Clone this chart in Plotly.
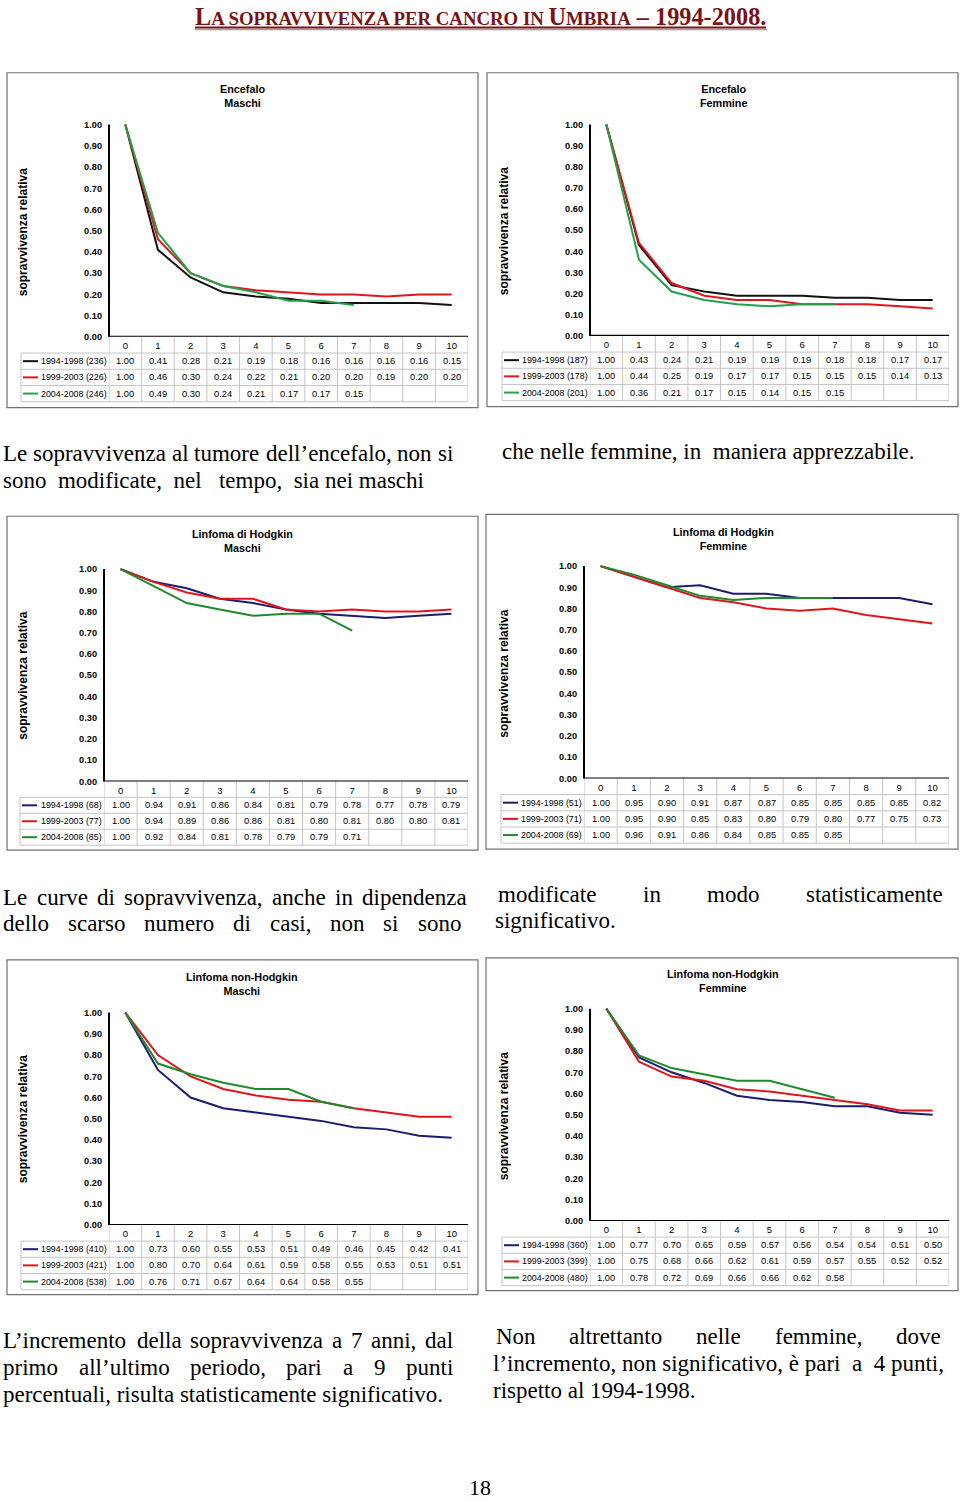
import plotly.graph_objects as go

# ---------------- data ----------------
years = list(range(11))
x_labels = [str(v) for v in years]
y_ticks = [i / 10 for i in range(11)]
y_ticktext = ["%.2f" % v for v in y_ticks]
periods = ["1994-1998", "1999-2003", "2004-2008"]

enc_m_n = [236, 226, 246]
enc_m_p1 = [1.00, 0.41, 0.28, 0.21, 0.19, 0.18, 0.16, 0.16, 0.16, 0.16, 0.15]
enc_m_p2 = [1.00, 0.46, 0.30, 0.24, 0.22, 0.21, 0.20, 0.20, 0.19, 0.20, 0.20]
enc_m_p3 = [1.00, 0.49, 0.30, 0.24, 0.21, 0.17, 0.17, 0.15, None, None, None]

enc_f_n = [187, 178, 201]
enc_f_p1 = [1.00, 0.43, 0.24, 0.21, 0.19, 0.19, 0.19, 0.18, 0.18, 0.17, 0.17]
enc_f_p2 = [1.00, 0.44, 0.25, 0.19, 0.17, 0.17, 0.15, 0.15, 0.15, 0.14, 0.13]
enc_f_p3 = [1.00, 0.36, 0.21, 0.17, 0.15, 0.14, 0.15, 0.15, None, None, None]

hl_m_n = [68, 77, 85]
hl_m_p1 = [1.00, 0.94, 0.91, 0.86, 0.84, 0.81, 0.79, 0.78, 0.77, 0.78, 0.79]
hl_m_p2 = [1.00, 0.94, 0.89, 0.86, 0.86, 0.81, 0.80, 0.81, 0.80, 0.80, 0.81]
hl_m_p3 = [1.00, 0.92, 0.84, 0.81, 0.78, 0.79, 0.79, 0.71, None, None, None]

hl_f_n = [51, 71, 69]
hl_f_p1 = [1.00, 0.95, 0.90, 0.91, 0.87, 0.87, 0.85, 0.85, 0.85, 0.85, 0.82]
hl_f_p2 = [1.00, 0.95, 0.90, 0.85, 0.83, 0.80, 0.79, 0.80, 0.77, 0.75, 0.73]
hl_f_p3 = [1.00, 0.96, 0.91, 0.86, 0.84, 0.85, 0.85, 0.85, None, None, None]

nhl_m_n = [410, 421, 538]
nhl_m_p1 = [1.00, 0.73, 0.60, 0.55, 0.53, 0.51, 0.49, 0.46, 0.45, 0.42, 0.41]
nhl_m_p2 = [1.00, 0.80, 0.70, 0.64, 0.61, 0.59, 0.58, 0.55, 0.53, 0.51, 0.51]
nhl_m_p3 = [1.00, 0.76, 0.71, 0.67, 0.64, 0.64, 0.58, 0.55, None, None, None]

nhl_f_n = [360, 399, 480]
nhl_f_p1 = [1.00, 0.77, 0.70, 0.65, 0.59, 0.57, 0.56, 0.54, 0.54, 0.51, 0.50]
nhl_f_p2 = [1.00, 0.75, 0.68, 0.66, 0.62, 0.61, 0.59, 0.57, 0.55, 0.52, 0.52]
nhl_f_p3 = [1.00, 0.78, 0.72, 0.69, 0.66, 0.66, 0.62, 0.58, None, None, None]

# ---------------- styling / geometry ----------------
W, H = 960, 1501


def fx(px):
    return px / W


def fy(py):
    return 1 - py / H


SANS = "Liberation Sans, Arial, sans-serif"
SERIF = "Liberation Serif, Times New Roman, serif"

BLACK = "#111111"
NAVY = "#1d1d6e"
RED = "#e0161e"
GREEN_L = "#25a04a"
GREEN_D = "#1f8a2c"
GRID = "#c4c4c4"
TITLE_RED = "#7a1214"

panels = [
    dict(name="Encefalo", sex="Maschi", n=enc_m_n, series=[enc_m_p1, enc_m_p2, enc_m_p3],
         colors=[BLACK, RED, GREEN_L], box=(7, 73, 478, 409), left=109, right=468,
         y0=338, y1=125, tleft=21, rowh=16.25, tx=242, ty=96.5, ylab=(23, 233)),
    dict(name="Encefalo", sex="Femmine", n=enc_f_n, series=[enc_f_p1, enc_f_p2, enc_f_p3],
         colors=[BLACK, RED, GREEN_L], box=(487, 73, 958, 408), left=590, right=949,
         y0=337, y1=125, tleft=502, rowh=16.25, tx=723, ty=96.5, ylab=(504, 232)),
    dict(name="Linfoma di Hodgkin", sex="Maschi", n=hl_m_n, series=[hl_m_p1, hl_m_p2, hl_m_p3],
         colors=[NAVY, RED, GREEN_D], box=(7, 518, 478, 853), left=104, right=468,
         y0=784, y1=571, tleft=20, rowh=16.0, tx=242, ty=542.5, ylab=(23, 678)),
    dict(name="Linfoma di Hodgkin", sex="Femmine", n=hl_f_n, series=[hl_f_p1, hl_f_p2, hl_f_p3],
         colors=[NAVY, RED, GREEN_D], box=(486, 516, 958, 852), left=584, right=949,
         y0=781, y1=568, tleft=501, rowh=16.25, tx=723, ty=540.5, ylab=(504, 676)),
    dict(name="Linfoma non-Hodgkin", sex="Maschi", n=nhl_m_n, series=[nhl_m_p1, nhl_m_p2, nhl_m_p3],
         colors=[NAVY, RED, GREEN_D], box=(7, 963, 478, 1299), left=109, right=468,
         y0=1229, y1=1016, tleft=21, rowh=16.25, tx=242, ty=987.5, ylab=(23, 1123)),
    dict(name="Linfoma non-Hodgkin", sex="Femmine", n=nhl_f_n, series=[nhl_f_p1, nhl_f_p2, nhl_f_p3],
         colors=[NAVY, RED, GREEN_D], box=(486, 961, 958, 1295), left=590, right=949,
         y0=1225, y1=1012, tleft=502, rowh=16.25, tx=723, ty=984.5, ylab=(504, 1120)),
]

fig = go.Figure()
layout = {}
shapes = []
annotations = []

for i, p in enumerate(panels, start=1):
    xa = "xaxis" if i == 1 else "xaxis%d" % i
    ya = "yaxis" if i == 1 else "yaxis%d" % i
    xr = "x" if i == 1 else "x%d" % i
    yr = "y" if i == 1 else "y%d" % i
    left, right, y0, y1, h = p["left"], p["right"], p["y0"], p["y1"], p["rowh"]
    ytop = 1.03
    top_px = y0 - (y0 - y1) * ytop
    layout[xa] = dict(domain=[fx(left), fx(right)], range=[-0.5, 10.5], anchor=yr,
                      tickmode="array", tickvals=years, ticktext=x_labels,
                      showgrid=False, zeroline=False, showline=False, ticks="",
                      ticklabelstandoff=2,
                      tickfont=dict(family=SANS, size=9.5, color="#000"),
                      fixedrange=True)
    layout[ya] = dict(domain=[fy(y0), fy(top_px)], range=[0, ytop], anchor=xr,
                      tickmode="array", tickvals=y_ticks, ticktext=y_ticktext,
                      showgrid=False, zeroline=False, showline=False, ticks="",
                      ticklabelstandoff=6,
                      tickfont=dict(family=SANS, size=9.2, color="#000", weight="bold"),
                      fixedrange=True)

    for s, vals in enumerate(p["series"]):
        fig.add_trace(go.Scatter(x=years, y=vals, xaxis=xr, yaxis=yr, mode="lines",
                                 line=dict(color=p["colors"][s], width=2),
                                 showlegend=False, hoverinfo="skip", connectgaps=False))

    bx0, by0, bx1, by1 = p["box"]
    shapes.append(dict(type="rect", xref="paper", yref="paper", x0=fx(bx0), x1=fx(bx1),
                       y0=fy(by1), y1=fy(by0), line=dict(color="#707070", width=1.2),
                       layer="below"))
    bottom = y0 + 4 * h
    for k in range(12):
        shapes.append(dict(type="line", xref=xr, yref="paper", x0=k - 0.5, x1=k - 0.5,
                           y0=fy(y0), y1=fy(bottom), line=dict(color=GRID, width=1)))
    shapes.append(dict(type="line", xref="paper", yref="paper", x0=fx(p["tleft"]), x1=fx(p["tleft"]),
                       y0=fy(y0 + h), y1=fy(bottom), line=dict(color=GRID, width=1)))
    for r in range(1, 5):
        shapes.append(dict(type="line", xref="paper", yref="paper", x0=fx(p["tleft"]), x1=fx(right),
                           y0=fy(y0 + r * h), y1=fy(y0 + r * h), line=dict(color=GRID, width=1)))
    shapes.append(dict(type="line", xref="paper", yref=yr, x0=fx(left), x1=fx(left), y0=0, y1=1.0,
                       line=dict(color="#000", width=2)))
    shapes.append(dict(type="line", xref="paper", yref=yr, x0=fx(left - 1), x1=fx(right), y0=0, y1=0,
                       line=dict(color="#000", width=2)))

    for s, vals in enumerate(p["series"]):
        cy = y0 + h * (s + 1) + h / 2
        for k, v in zip(years, vals):
            if v is None:
                continue
            annotations.append(dict(x=k, y=fy(cy), xref=xr, yref="paper", text="%.2f" % v,
                                    showarrow=False, xanchor="center", yanchor="middle",
                                    font=dict(family=SANS, size=9.3, color="#000")))
        shapes.append(dict(type="line", xref="paper", yref="paper", x0=fx(p["tleft"] + 2),
                           x1=fx(p["tleft"] + 17), y0=fy(cy), y1=fy(cy),
                           line=dict(color=p["colors"][s], width=2)))
        annotations.append(dict(x=fx(left - 1), y=fy(cy), xref="paper", yref="paper",
                                text="%s (%d)" % (periods[s], p["n"][s]),
                                showarrow=False, xanchor="right", yanchor="middle", borderpad=0,
                                font=dict(family=SANS, size=8.9, color="#000")))

    annotations.append(dict(x=fx(p["tx"]), y=fy(p["ty"]), xref="paper", yref="paper",
                            text="<b>%s<br>%s</b>" % (p["name"], p["sex"]), showarrow=False,
                            xanchor="center", yanchor="middle",
                            font=dict(family=SANS, size=10.8, color="#000")))
    annotations.append(dict(x=fx(p["ylab"][0]), y=fy(p["ylab"][1]), xref="paper", yref="paper",
                            text="<b>sopravvivenza relativa</b>", textangle=-90, showarrow=False,
                            xanchor="center", yanchor="middle",
                            font=dict(family=SANS, size=12, color="#000")))

# ---------------- page title ----------------
title_html = ("<b><span style='font-size:24.3px'>L</span>"
              "<span style='font-size:18.8px'>A SOPRAVVIVENZA PER CANCRO IN </span>"
              "<span style='font-size:24.3px'>U</span>"
              "<span style='font-size:18.8px'>MBRIA</span>"
              "<span style='font-size:24.3px'> – 1994-2008.</span></b>")
annotations.append(dict(x=fx(480), y=fy(17), xref="paper", yref="paper", text=title_html,
                        showarrow=False, xanchor="center", yanchor="middle",
                        font=dict(family=SERIF, size=24.3, color=TITLE_RED)))
shapes.append(dict(type="line", xref="paper", yref="paper", x0=fx(195), x1=fx(767),
                   y0=fy(29.5), y1=fy(29.5), line=dict(color="#a0a0a0", width=1.5)))
shapes.append(dict(type="line", xref="paper", yref="paper", x0=fx(195), x1=fx(766),
                   y0=fy(27.5), y1=fy(27.5), line=dict(color=TITLE_RED, width=2)))

# ---------------- body text ----------------
BODY = 23
NB = "\u00a0"
DY = 4  # visual centre correction for serif text boxes
# Times/Liberation Serif advance widths (1/1000 em), used to justify lines
TNR = {" ": 250, "a": 444, "b": 500, "c": 444, "d": 500, "e": 444, "f": 333, "g": 500,
       "h": 500, "i": 278, "j": 278, "k": 500, "l": 278, "m": 778, "n": 500, "o": 500,
       "p": 500, "q": 500, "r": 333, "s": 389, "t": 278, "u": 500, "v": 500, "w": 722,
       "x": 500, "y": 500, "z": 444, ",": 250, ".": 250, "’": 333, "-": 333, "L": 611,
       "N": 722, "è": 444}


def tw(s, size=BODY):
    return sum(TNR.get(c, 500) for c in s) * size / 1000.0


def text_at(x, y, s, anchor="left", size=BODY):
    annotations.append(dict(x=fx(x), y=fy(y + DY), xref="paper", yref="paper", text=s,
                            showarrow=False, xanchor=anchor, yanchor="middle", borderpad=0,
                            font=dict(family=SERIF, size=size, color="#000")))


def justify(y, line, x0, x1, size=BODY):
    words = line.split(" ")
    widths = [tw(w, size) for w in words]
    gap = (x1 - x0 - sum(widths)) / (len(words) - 1)
    x = x0
    for w, wd in zip(words, widths):
        text_at(x, y, w, size=size)
        x += wd + gap


justify(451, "Le sopravvivenza al tumore dell’encefalo, non si", 2, 452)
text_at(2, 478, "sono" + NB * 2 + "modificate," + NB * 2 + "nel" + NB * 3 + "tempo," + NB * 2 + "sia nei maschi")
text_at(501, 449, "che nelle femmine, in" + NB * 2 + "maniera apprezzabile.")

justify(896, "Le curve di sopravvivenza, anche in dipendenza", 2, 466)
justify(923, "dello scarso numero di casi, non si sono", 2, 460)
justify(893, "modificate in modo statisticamente", 497, 942)
text_at(494, 920, "significativo.")

justify(1341, "L’incremento della sopravvivenza a 7 anni, dal", 2, 452)
justify(1368, "primo all’ultimo periodo, pari a 9 punti", 2, 452)
text_at(2, 1395, "percentuali, risulta statisticamente significativo.")
justify(1337, "Non altrettanto nelle femmine, dove", 495, 940)
text_at(492, 1364, "l’incremento, non significativo, è pari" + NB * 2 + "a" + NB * 2 + "4 punti,")
text_at(492, 1391, "rispetto al 1994-1998.")

text_at(480, 1488, "18", anchor="center", size=22)

layout.update(dict(width=W, height=H, margin=dict(l=0, r=0, t=0, b=0),
                   paper_bgcolor="white", plot_bgcolor="rgba(0,0,0,0)",
                   shapes=shapes, annotations=annotations, showlegend=False))
fig.update_layout(**layout)
fig.write_html("out.html", config={"displayModeBar": False},
               post_script="document.body.style.margin='0';document.body.style.overflow='hidden';")
